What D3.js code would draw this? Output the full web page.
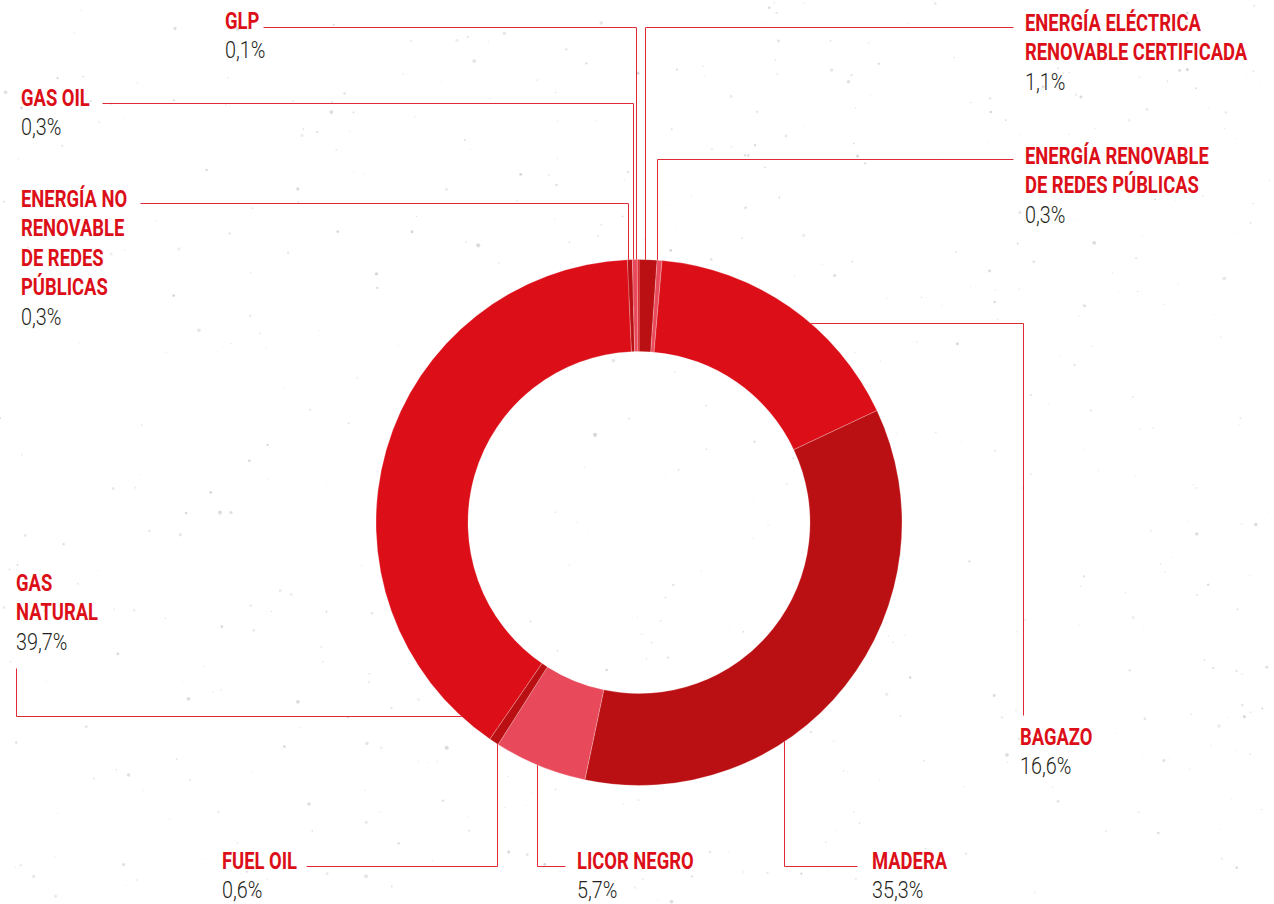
<!DOCTYPE html>
<html>
<head>
<meta charset="utf-8">
<script src="https://cdn.jsdelivr.net/npm/d3@7"></script>
<style>
  html, body { margin: 0; padding: 0; background: #ffffff; }
  svg { display: block; }
  .title { font-family: "Roboto", "Liberation Sans", sans-serif; font-weight: 700; fill: #dc0f18; font-size: 23px; }
  .value { font-family: "Roboto", "Liberation Sans", sans-serif; font-weight: 300; fill: #231f20; font-size: 23px; }
</style>
</head>
<body>
<svg id="chart" width="1274" height="904"></svg>
<script>
// ---- data ----
const categories = [
  "ENERGÍA ELÉCTRICA RENOVABLE CERTIFICADA",
  "ENERGÍA RENOVABLE DE REDES PÚBLICAS",
  "BAGAZO",
  "MADERA",
  "LICOR NEGRO",
  "FUEL OIL",
  "GAS NATURAL",
  "ENERGÍA NO RENOVABLE DE REDES PÚBLICAS",
  "GAS OIL",
  "GLP"
];
const values = [1.1, 0.3, 16.6, 35.3, 5.7, 0.6, 39.7, 0.3, 0.3, 0.1];
const labelLines = [
  ["ENERGÍA ELÉCTRICA", "RENOVABLE CERTIFICADA"],
  ["ENERGÍA RENOVABLE", "DE REDES PÚBLICAS"],
  ["BAGAZO"],
  ["MADERA"],
  ["LICOR NEGRO"],
  ["FUEL OIL"],
  ["GAS", "NATURAL"],
  ["ENERGÍA NO", "RENOVABLE", "DE REDES", "PÚBLICAS"],
  ["GAS OIL"],
  ["GLP"]
];

// ---- styles / layout ----
const colors = ["#bb1013", "#e84a5c", "#dc0f18", "#bb1013", "#e84a5c", "#bb1013", "#dc0f18", "#bb1013", "#e84a5c", "#dc0f18"];
const W = 1274, H = 904;
const cx = 639, cy = 522.5, rOuter = 263, rInner = 171;
const rMid = (rOuter + rInner) / 2;
const lineH = 29.5;
const titleScale = 0.8, valueScale = 0.86;
// label layout: text x, first baseline, leader type and elbow geometry
const layout = [
  { tx: 1025, ty: 31,  kind: "up",    lx: 645, ly: 27,  ex: 1013 },
  { tx: 1025, ty: 164, kind: "up",    lx: 657, ly: 159, ex: 1013 },
  { tx: 1020, ty: 745, kind: "right", ly: 323, lx: 1023, ey: 715 },
  { tx: 872,  ty: 869, kind: "down",  lx: 784, ly: 866, ex: 857 },
  { tx: 577,  ty: 869, kind: "down",  lx: 537, ly: 866, ex: 565 },
  { tx: 222,  ty: 869, kind: "down",  lx: 497, ly: 866, ex: 306 },
  { tx: 16,   ty: 591, kind: "left",  ly: 716, lx: 16,  ey: 668 },
  { tx: 21,   ty: 207, kind: "up",    lx: 628, ly: 203, ex: 140 },
  { tx: 21,   ty: 106, kind: "up",    lx: 633, ly: 103, ex: 102 },
  { tx: 225,  ty: 29,  kind: "up",    lx: 636, ly: 27,  ex: 263 }
];

const locale = d3.formatLocale({ decimal: ",", thousands: ".", grouping: [3], currency: ["", ""] });
const fmt = v => locale.format(".1f")(v) + "%";

const svg = d3.select("#chart");

// background speckles (decorative, deterministic)
let seed = 12345;
const lcg = () => { seed = (seed * 1103515245 + 12345) % 2147483648; return seed / 2147483648; };
const speck = svg.append("g");
for (let i = 0; i < 700; i++) {
  const x = lcg() * W, y = lcg() * H, r = 0.4 + lcg() * lcg() * 1.8;
  speck.append("circle").attr("cx", x).attr("cy", y).attr("r", r)
    .attr("fill", "#cfcfcf").attr("opacity", 0.35 + lcg() * 0.5);
}

// leader lines (behind donut)
const leaders = svg.append("g").attr("fill", "none").attr("stroke", "#df2b36").attr("stroke-width", 1);
layout.forEach((L, i) => {
  let pts;
  if (L.kind === "up" || L.kind === "down") {
    const dx = L.lx - cx;
    const y0 = L.kind === "up" ? cy - Math.sqrt(rMid * rMid - dx * dx) : cy + Math.sqrt(rMid * rMid - dx * dx);
    pts = [[L.lx, y0], [L.lx, L.ly], [L.ex, L.ly]];
  } else {
    const dy = L.ly - cy;
    const x0 = L.kind === "right" ? cx + Math.sqrt(rMid * rMid - dy * dy) : cx - Math.sqrt(rMid * rMid - dy * dy);
    pts = [[x0, L.ly], [L.lx, L.ly], [L.lx, L.ey]];
  }
  leaders.append("path").attr("d", d3.line()(pts.map(p => [Math.round(p[0]) + 0.5, Math.round(p[1]) + 0.5])));
});

// donut
const pie = d3.pie().sort(null).value(d => d)(values);
const arc = d3.arc().innerRadius(rInner).outerRadius(rOuter);
svg.append("g").attr("transform", `translate(${cx},${cy})`)
  .selectAll("path").data(pie).join("path")
  .attr("d", arc)
  .attr("fill", (d, i) => colors[i])
  .attr("stroke", "#ffffff").attr("stroke-width", 0.4).attr("stroke-opacity", 0.6);

// labels
const labels = svg.append("g");
const squeeze = (x, s) => `translate(${x},0) scale(${s},1) translate(${-x},0)`;
categories.forEach((c, i) => {
  const L = layout[i];
  const g = labels.append("g");
  labelLines[i].forEach((t, j) => {
    g.append("text").attr("class", "title")
      .attr("x", L.tx).attr("y", L.ty + j * lineH)
      .attr("transform", squeeze(L.tx, titleScale))
      .text(t);
  });
  g.append("text").attr("class", "value")
    .attr("x", L.tx).attr("y", L.ty + labelLines[i].length * lineH)
    .attr("transform", squeeze(L.tx, valueScale))
    .text(fmt(values[i]));
});
</script>
</body>
</html>
